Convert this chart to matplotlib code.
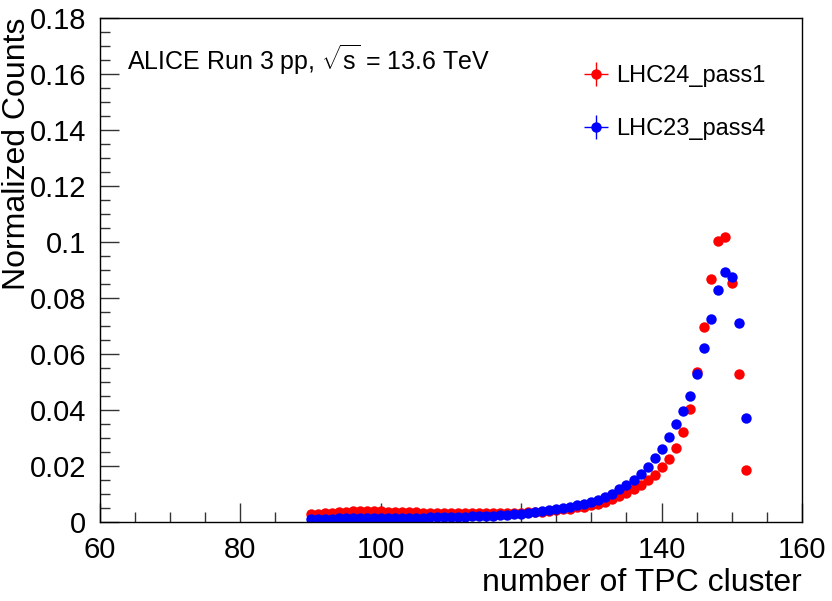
import numpy as np
import matplotlib
matplotlib.use("Agg")
import matplotlib.pyplot as plt
from matplotlib.ticker import MultipleLocator

# TPC cluster bins (integer bin centres)
nClusters = np.arange(90, 153)

# LHC24_pass1, normalized counts per bin
countsPass1 = [
    0.0028, 0.0030, 0.0032, 0.0034, 0.0036, 0.0037, 0.0039, 0.0040, 0.0040, 0.0040,
    0.0039, 0.0038, 0.0037, 0.0036, 0.0036, 0.0035, 0.0034, 0.0034, 0.0034, 0.0033,
    0.0033, 0.0033, 0.0033, 0.0032, 0.0032, 0.0032, 0.0032, 0.0032, 0.0033, 0.0033,
    0.0034, 0.0035, 0.0036, 0.0038, 0.0040, 0.0043, 0.0046, 0.0049, 0.0053, 0.0056,
    0.0060, 0.0067, 0.0073, 0.0083, 0.0093, 0.0105, 0.0117, 0.0132, 0.0150, 0.0170,
    0.0198, 0.0225, 0.0265, 0.0323, 0.0406, 0.0537, 0.0698, 0.0870, 0.1004, 0.1017,
    0.0855, 0.0530, 0.0186,
]

# LHC23_pass4, normalized counts per bin
countsPass4 = [
    0.0012, 0.0012, 0.0013, 0.0013, 0.0014, 0.0014, 0.0015, 0.0015, 0.0015, 0.0016,
    0.0016, 0.0016, 0.0016, 0.0017, 0.0017, 0.0017, 0.0017, 0.0018, 0.0018, 0.0018,
    0.0018, 0.0019, 0.0020, 0.0021, 0.0022, 0.0023, 0.0024, 0.0025, 0.0027, 0.0029,
    0.0031, 0.0033, 0.0036, 0.0039, 0.0043, 0.0047, 0.0051, 0.0056, 0.0061, 0.0067,
    0.0073, 0.0081, 0.0090, 0.0102, 0.0117, 0.0132, 0.0151, 0.0173, 0.0198, 0.0229,
    0.0263, 0.0305, 0.0350, 0.0396, 0.0451, 0.0529, 0.0623, 0.0724, 0.0829, 0.0893,
    0.0876, 0.0712, 0.0373,
]

seriesLabels = ["LHC24_pass1", "LHC23_pass4"]
binHalfWidth = 0.5

plt.rcParams["font.family"] = ["Liberation Sans", "DejaVu Sans"]
plt.rcParams["mathtext.fontset"] = "custom"
plt.rcParams["mathtext.rm"] = "Liberation Sans"
plt.rcParams["mathtext.it"] = "Liberation Sans"

fig = plt.figure(figsize=(8.32, 6.01), dpi=100)
ax = fig.add_axes([0.120, 0.131, 0.844, 0.839])

# red first so blue sits on top where they overlap
for counts, color, label in zip([countsPass1, countsPass4], ["#ff0000", "#0000ff"], seriesLabels):
    counts = np.array(counts)
    ax.errorbar(nClusters, counts, xerr=binHalfWidth, yerr=np.zeros_like(counts),
                fmt="o", color=color, ms=7.5, mew=0, elinewidth=1.0, capsize=0,
                label=label)

ax.set_xlim(60, 160)
ax.set_ylim(0, 0.18)
ax.xaxis.set_major_locator(MultipleLocator(20))
ax.xaxis.set_minor_locator(MultipleLocator(5))
ax.yaxis.set_major_locator(MultipleLocator(0.02))
ax.yaxis.set_minor_locator(MultipleLocator(0.005))
ax.set_yticks(np.arange(0, 0.181, 0.02))
ax.set_yticklabels(["0", "0.02", "0.04", "0.06", "0.08", "0.1", "0.12", "0.14", "0.16", "0.18"])

ax.tick_params(which="both", direction="in", top=False, right=False,
               labelsize=21, width=1.0, color="#333333")
ax.tick_params(which="major", length=14, pad=10)
ax.tick_params(which="minor", length=7)
for spine in ax.spines.values():
    spine.set_linewidth(1.0)

ax.set_xlabel("number of TPC cluster", fontsize=23, loc="right")
ax.xaxis.set_label_coords(1.0, -0.09)
ax.set_ylabel("Normalized Counts", fontsize=23, loc="top")
ax.yaxis.set_label_coords(-0.096, 1.0)

ax.text(0.038, 0.918, r"ALICE Run 3 pp, $\sqrt{\mathrm{s}}$ = 13.6 TeV",
        transform=ax.transAxes, fontsize=18, va="center", ha="left")

ax.legend(loc="upper left", bbox_to_anchor=(0.67, 0.925), frameon=False,
          fontsize=17, handlelength=1.4, handletextpad=0.15, labelspacing=1.3,
          borderaxespad=0)

plt.savefig("out.png", dpi=100)
